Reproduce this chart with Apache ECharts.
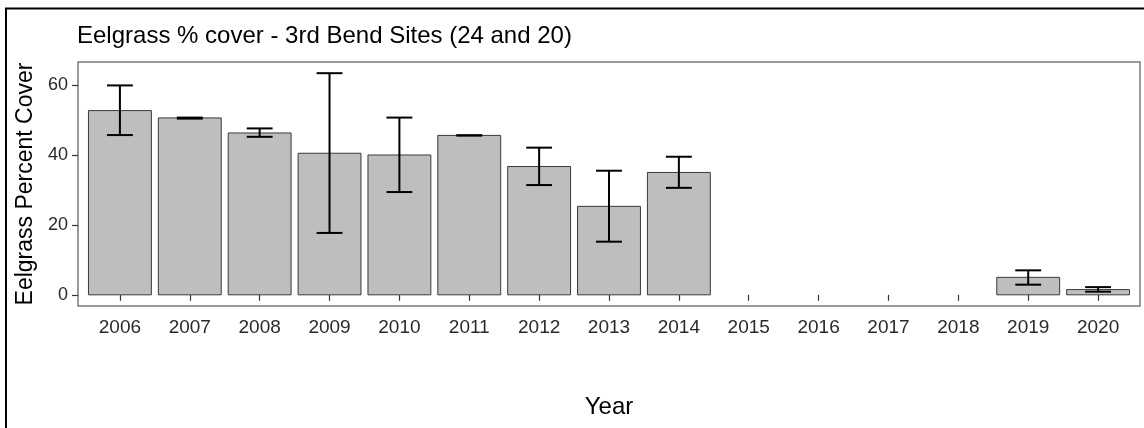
<!DOCTYPE html>
<html>
<head>
<meta charset="utf-8">
<script src="https://cdn.jsdelivr.net/npm/echarts@6/dist/echarts.min.js"></script>
<style>
html,body{margin:0;padding:0;background:#fff;}
#chart{width:1144px;height:428px;}
</style>
</head>
<body>
<div id="chart"></div>
<script>
// ---- Data ----
const years = [2006, 2007, 2008, 2009, 2010, 2011, 2012, 2013, 2014, 2015, 2016, 2017, 2018, 2019, 2020];
const meanCover = [52.7, 50.6, 46.3, 40.5, 40.0, 45.6, 36.7, 25.3, 35.0, null, null, null, null, 5.0, 1.5];
const upperCover = [59.9, 50.7, 47.6, 63.4, 50.7, 45.6, 42.1, 35.5, 39.5, null, null, null, null, 7.0, 2.2];
const lowerCover = [45.7, 50.4, 45.2, 17.7, 29.4, 45.6, 31.4, 15.2, 30.6, null, null, null, null, 2.9, 0.9];
const yTicks = [0, 20, 40, 60];
const titleText = 'Eelgrass % cover - 3rd Bend Sites (24 and 20)';
const yTitle = 'Eelgrass Percent Cover';
const xTitle = 'Year';

// ---- Build series data ----
const barData = [];
const errData = [];
years.forEach((y, i) => {
  if (meanCover[i] != null) barData.push([y, meanCover[i]]);
  if (upperCover[i] != null) errData.push([y, lowerCover[i], upperCover[i]]);
});

const font = 'Liberation Sans, Arial, Helvetica, sans-serif';
const chart = echarts.init(document.getElementById('chart'), null, {renderer: 'canvas'});

chart.setOption({
  animation: false,
  backgroundColor: '#ffffff',
  title: {
    text: titleText,
    left: 77,
    top: 24,
    padding: 0,
    textStyle: {fontFamily: font, fontSize: 24, fontWeight: 'normal', color: '#000'}
  },
  graphic: [{
    type: 'rect',
    shape: {x: 6, y: 8.5, width: 2000, height: 2000},
    style: {fill: 'none', stroke: '#000', lineWidth: 2},
    silent: true
  }],
  grid: {
    left: 78, right: 4, top: 62, bottom: 122,
    show: true, borderColor: '#7a7a7a', borderWidth: 1.5,
    backgroundColor: '#fff',
    containLabel: false, outerBoundsMode: 'none'
  },
  xAxis: {
    type: 'value',
    min: 2005.4, max: 2020.6,
    name: xTitle, nameLocation: 'middle', nameGap: 89,
    nameTextStyle: {fontFamily: font, fontSize: 24, color: '#000'},
    axisLine: {show: false},
    splitLine: {show: false},
    axisTick: {show: true, length: 6, customValues: years, lineStyle: {color: '#333', width: 1.2}},
    axisLabel: {customValues: years, formatter: v => String(v), fontFamily: font, fontSize: 19, color: '#2a2a2a', margin: 12}
  },
  yAxis: {
    type: 'value',
    min: -3.2, max: 66.6,
    name: yTitle, nameLocation: 'middle', nameGap: 33,
    nameTextStyle: {fontFamily: font, fontSize: 23, color: '#000'},
    axisLine: {show: false},
    splitLine: {show: false},
    axisTick: {show: true, length: 6, customValues: yTicks, lineStyle: {color: '#333', width: 1.2}},
    axisLabel: {customValues: yTicks, fontFamily: font, fontSize: 18, color: '#2a2a2a', margin: 10}
  },
  series: [{
    type: 'custom',
    data: barData,
    encode: {x: 0, y: 1},
    renderItem: function (params, api) {
      const x = api.value(0), v = api.value(1);
      const p0 = api.coord([x, 0]);
      const p1 = api.coord([x, v]);
      const w = api.size([0.9, 0])[0];
      return {
        type: 'rect',
        shape: {x: p0[0] - w / 2, y: p1[1], width: w, height: p0[1] - p1[1]},
        style: {fill: '#bebebe', stroke: '#3a3a3a', lineWidth: 1}
      };
    }
  }, {
    type: 'custom',
    data: errData,
    encode: {x: 0, y: [1, 2]},
    z: 5,
    renderItem: function (params, api) {
      const x = api.value(0);
      const lo = api.coord([x, api.value(1)]);
      const hi = api.coord([x, api.value(2)]);
      const hw = api.size([0.37, 0])[0] / 2;
      const st = {stroke: '#000', lineWidth: 2};
      return {
        type: 'group',
        children: [
          {type: 'line', shape: {x1: lo[0], y1: lo[1], x2: hi[0], y2: hi[1]}, style: st},
          {type: 'line', shape: {x1: hi[0] - hw, y1: hi[1], x2: hi[0] + hw, y2: hi[1]}, style: st},
          {type: 'line', shape: {x1: lo[0] - hw, y1: lo[1], x2: lo[0] + hw, y2: lo[1]}, style: st}
        ]
      };
    }
  }]
});
</script>
</body>
</html>
